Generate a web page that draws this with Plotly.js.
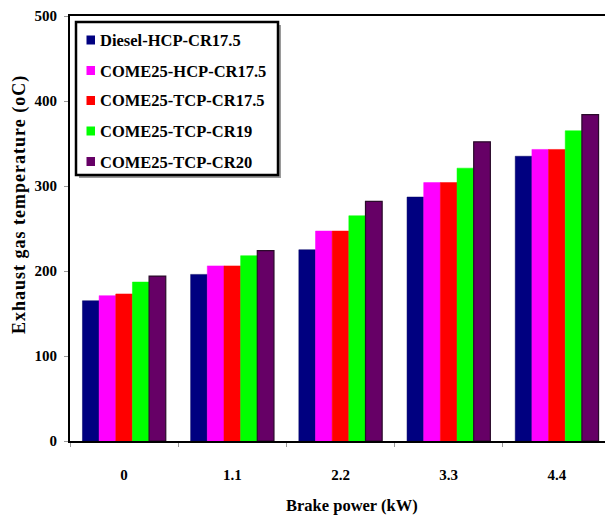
<!DOCTYPE html>
<html>
<head>
<meta charset="utf-8">
<script src="https://cdn.plot.ly/plotly-3.0.1.min.js"></script>
<style>
  html, body { margin: 0; padding: 0; overflow: hidden; background: #fff; }
  #chart { width: 615px; height: 518px; }
</style>
</head>
<body>
<div id="chart"></div>
<script>
// Brake power levels (kW)
const brakePower = ['0', '1.1', '2.2', '3.3', '4.4'];

// Exhaust gas temperature (oC) per fuel / configuration
const seriesNames = [
  'Diesel-HCP-CR17.5',
  'COME25-HCP-CR17.5',
  'COME25-TCP-CR17.5',
  'COME25-TCP-CR19',
  'COME25-TCP-CR20'
];
const dieselHcp175 = [165, 196, 225, 287, 335];
const come25Hcp175 = [171, 206, 247, 304, 343];
const come25Tcp175 = [173, 206, 247, 304, 343];
const come25Tcp19  = [187, 218, 265, 321, 365];
const come25Tcp20  = [194, 224, 282, 352, 384];

const xTitle = 'Brake power (kW)';
const yTitle = 'Exhaust gas temperature (oC)';

const seriesValues = [dieselHcp175, come25Hcp175, come25Tcp175, come25Tcp19, come25Tcp20];
const seriesColors = ['#000080', '#ff00ff', '#ff0000', '#00ff00', '#660066'];
const seriesEdges  = ['#000060', '#ff00ff', '#ff0000', '#00ff00', '#2a0a2a'];

const serif = 'Liberation Serif, Times New Roman, serif';

const traces = seriesNames.map((name, i) => ({
  type: 'bar',
  name: name,
  x: brakePower,
  y: seriesValues[i],
  marker: {
    color: seriesColors[i],
    line: { color: seriesEdges[i], width: i === 4 ? 1.2 : 0.5 }
  },
  hoverinfo: 'x+y+name'
}));

// Plot area in pixels (used to place the boxed key and titles in paper units)
const plotLeft = 70, plotRight = 611, plotTop = 16, plotBottom = 441;
const px = v => (v - plotLeft) / (plotRight - plotLeft);
const py = v => (plotBottom - v) / (plotBottom - plotTop);

// Boxed key: frame, drop shadow, colour swatches and names
const keyBox = { x0: 76, x1: 278, y0: 22, y1: 175 };
const keyRowY = [40, 70.5, 100.5, 131, 161.5];
const shapes = [
  {
    type: 'rect', xref: 'paper', yref: 'paper', layer: 'above',
    x0: px(keyBox.x0 + 3), x1: px(keyBox.x1 + 3), y0: py(keyBox.y1 + 3), y1: py(keyBox.y0 + 3),
    fillcolor: '#9a9a9a', line: { width: 0 }
  },
  {
    type: 'rect', xref: 'paper', yref: 'paper', layer: 'above',
    x0: px(keyBox.x0), x1: px(keyBox.x1), y0: py(keyBox.y1), y1: py(keyBox.y0),
    fillcolor: '#ffffff', line: { color: '#000', width: 2.5 }
  }
];
const annotations = [];
seriesNames.forEach((name, i) => {
  const cy = keyRowY[i];
  shapes.push({
    type: 'rect', xref: 'paper', yref: 'paper', layer: 'above',
    x0: px(86.5), x1: px(95), y0: py(cy + 4.5), y1: py(cy - 4.5),
    fillcolor: seriesColors[i], line: { width: 0 }
  });
  annotations.push({
    text: name,
    xref: 'paper', yref: 'paper',
    x: px(97.5), y: py(cy + 0.5),
    xanchor: 'left', yanchor: 'middle',
    showarrow: false,
    font: { family: serif, size: 16.5, color: '#000', weight: 'bold' }
  });
});

// Axis titles
annotations.push({
  text: xTitle,
  xref: 'paper', yref: 'paper',
  x: px(352), y: py(506),
  xanchor: 'center', yanchor: 'middle',
  showarrow: false,
  font: { family: serif, size: 16.5, color: '#000', weight: 'bold' }
});
annotations.push({
  text: '<span style="letter-spacing:1px">' + yTitle + '</span>',
  xref: 'paper', yref: 'paper',
  x: px(19), y: py(205),
  xanchor: 'center', yanchor: 'middle',
  textangle: -90,
  showarrow: false,
  font: { family: serif, size: 18, color: '#000', weight: 'bold' }
});

const layout = {
  width: 615,
  height: 518,
  margin: { l: plotLeft, r: 615 - plotRight, t: plotTop, b: 518 - plotBottom },
  paper_bgcolor: '#ffffff',
  plot_bgcolor: '#ffffff',
  barmode: 'group',
  bargap: 0.23,
  bargroupgap: 0,
  showlegend: false,
  font: { family: serif, color: '#000', size: 14 },
  xaxis: {
    type: 'category',
    showline: true,
    linecolor: '#000',
    linewidth: 2,
    mirror: true,
    showgrid: false,
    zeroline: false,
    tickson: 'boundaries',
    ticks: 'outside',
    ticklen: 4,
    tickcolor: '#999',
    ticklabelstandoff: 19,
    tickfont: { family: serif, size: 15, color: '#000', weight: 'bold' }
  },
  yaxis: {
    range: [0, 500],
    dtick: 100,
    showline: true,
    linecolor: '#000',
    linewidth: 2,
    showgrid: false,
    zeroline: false,
    ticks: 'outside',
    ticklen: 4,
    tickcolor: '#999',
    ticklabelstandoff: 4,
    tickfont: { family: serif, size: 15, color: '#000', weight: 'bold' }
  },
  shapes: shapes,
  annotations: annotations
};

Plotly.newPlot('chart', traces, layout, { displayModeBar: false, staticPlot: true });
</script>
</body>
</html>
